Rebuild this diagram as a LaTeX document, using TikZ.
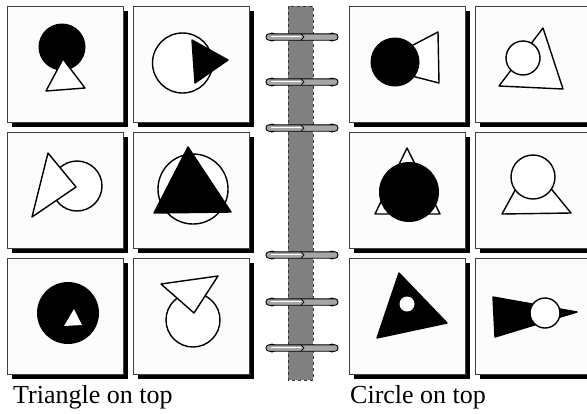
\documentclass[tikz,border=0pt]{standalone}
\usepackage{fontspec}
\setmainfont{Liberation Serif}
\begin{document}
\begin{tikzpicture}[x=1pt, y=-1pt,
    panel/.style={draw=black!75, line width=0.6pt, fill=black!1},
    shadow/.style={fill=black},
    figline/.style={draw=black, line width=1.4pt, line join=round},
    ring/.style={draw=black, line width=0.9pt, fill=black!35, rounded corners=3pt},
    caption/.style={anchor=base west, inner sep=0pt, font=\fontsize{26}{30}\selectfont}]
    \useasboundingbox (0,0) rectangle (587,413);
    \fill[white] (0,0) rectangle (587,413);

    % Panels with their drop shadows
    \foreach \x in {7,133,349,475}
        \foreach \y in {6,132,258} {
            \fill[shadow] (\x+5,\y+5) rectangle (\x+121,\y+121);
            \draw[panel] (\x,\y) rectangle (\x+116,\y+116);
        }

    % Spine
    \draw[fill=black!50, draw=black!80, dashed, line width=0.6pt] (288,6) rectangle (313,380);

    % Rings
    \foreach \y in {37,82,128,255,302,348} {
        \fill (272,\y) circle (4.5);
        \fill (332,\y) circle (4.5);
        \draw[ring] (266,\y-3.2) rectangle (338,\y+3.2);
        \draw[white, line width=1.3pt] (271,\y-0.8) -- (301,\y-0.8);
        \draw[black, line width=0.7pt] (301,\y-3.2) -- (304,\y) -- (301,\y+3.2);
    }

    % Left: Triangle on top
    \fill (62,47) circle (23.5);
    \draw[figline, fill=white] (63,59) -- (85,88) -- (46,91) -- cycle;

    \draw[figline, fill=white] (182.5,63) circle (30);
    \fill[figline] (192,40) -- (228,60) -- (195,83) -- cycle;

    \draw[figline, fill=white] (77,186) circle (25);
    \draw[figline, fill=white] (48,153) -- (76,187) -- (32,217) -- cycle;

    \draw[figline, fill=white] (193,189) circle (35);
    \fill[figline] (188,147) -- (231,212) -- (154,213) -- cycle;

    \fill (68,313) circle (31);
    \fill[white] (74,309) -- (82,325) -- (64,326) -- cycle;

    \draw[figline, fill=white] (193,320) circle (27);
    \draw[figline, fill=white] (161,284) -- (218,276) -- (194,313) -- cycle;

    % Right: Circle on top
    \draw[figline, fill=white] (373,66) -- (438,32) -- (439,83) -- cycle;
    \fill (395,62) circle (24.5);

    \draw[figline, fill=white] (543,28) -- (563,89) -- (499,86) -- cycle;
    \draw[figline, fill=white] (523,58) circle (17);

    \draw[figline, fill=white] (407,148) -- (440,214) -- (375,214) -- cycle;
    \fill (409,192) circle (30);

    \draw[figline, fill=white] (530,163) -- (571,213) -- (502,214) -- cycle;
    \draw[figline, fill=white] (533,177) circle (22);

    \fill[figline] (399,273) -- (447,323) -- (377,338) -- cycle;
    \fill[white] (407,304) circle (7.5);

    \fill[figline] (493,297) -- (577,312) -- (495,337) -- cycle;
    \draw[figline, fill=white] (545,313) circle (15);

    % Captions
    \node[caption] (lefttitle) at (13,403) {Triangle on top};
    \node[caption] (righttitle) at (350,403) {Circle on top};
\end{tikzpicture}
\end{document}
